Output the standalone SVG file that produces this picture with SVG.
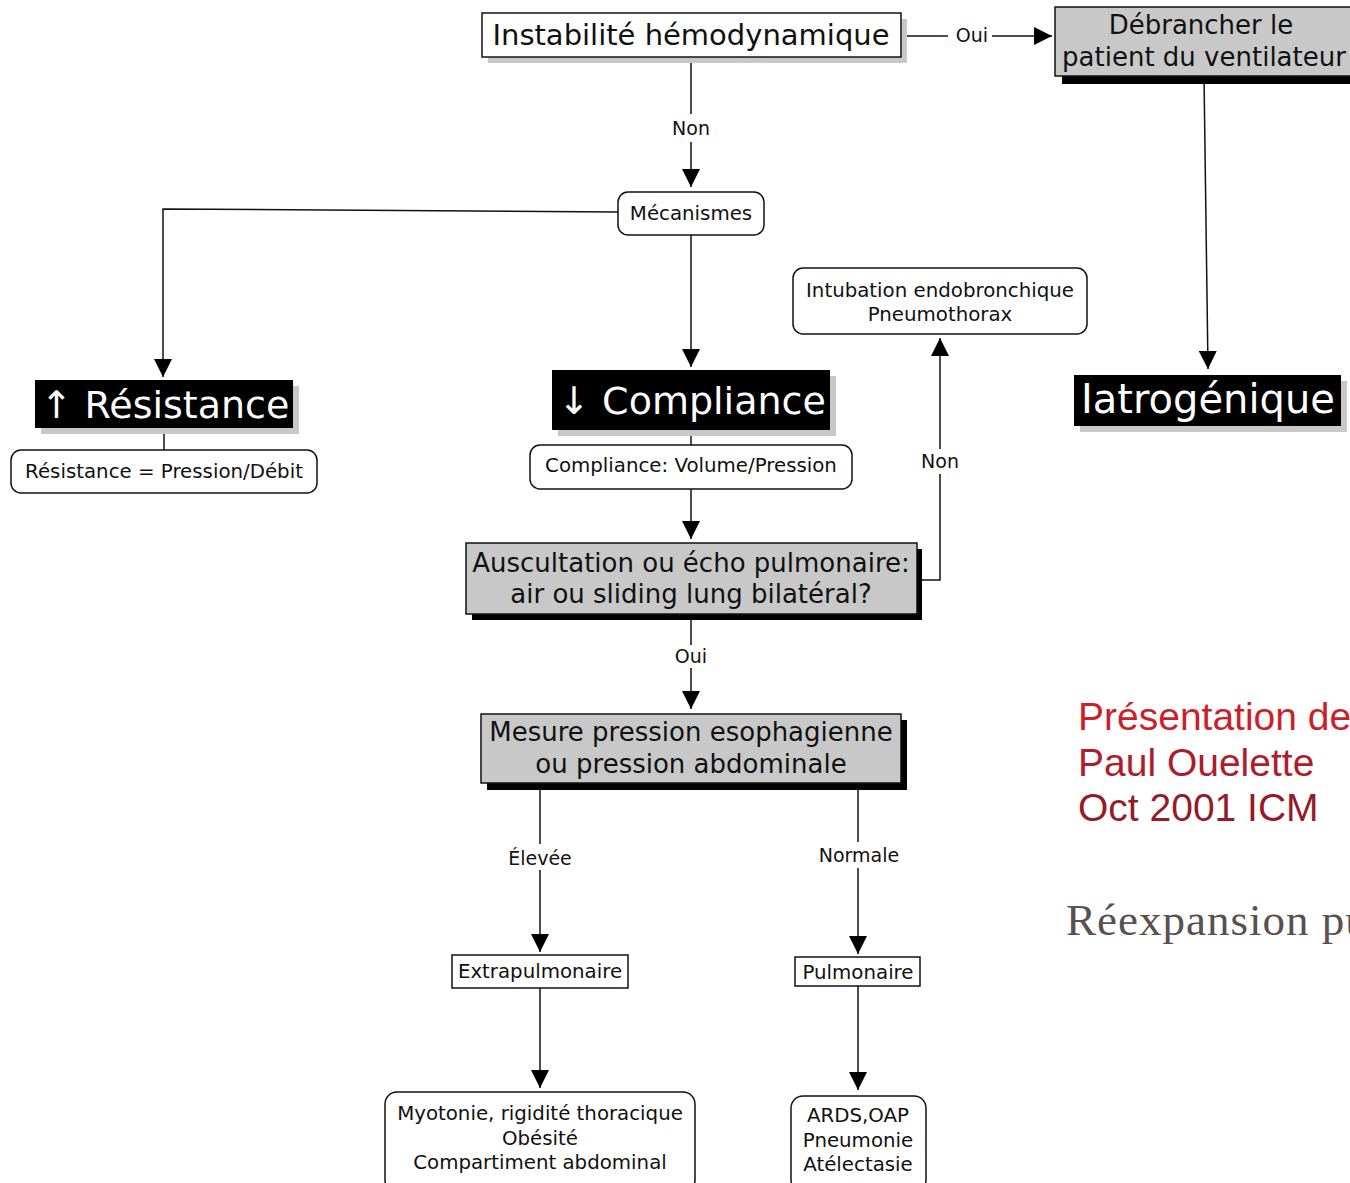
<svg xmlns="http://www.w3.org/2000/svg" width="1350" height="1183" viewBox="0 0 1350 1183">
  <defs>
    <marker id="arrBig" viewBox="0 0 10 10" refX="10" refY="5" markerWidth="18" markerHeight="18" markerUnits="userSpaceOnUse" orient="auto">
      <path d="M0,0 L10,5 L0,10 z" fill="#000"/>
    </marker>
  </defs>
  <style>
    text { font-family: "DejaVu Sans", Verdana, sans-serif; text-anchor: middle; fill: #111; }
    .box { fill: #fff; stroke: #111; stroke-width: 1.5; }
    .grey { fill: #c8c8c8; stroke: #111; stroke-width: 1.5; }
    .dark { fill: #000; }
    .lshadow { fill: #c8c8c8; }
    .bshadow { fill: #000; }
    .big { font-size: 29px; }
    .mid { font-size: 26px; }
    .small { font-size: 19.8px; }
    .lbl { font-size: 19px; }
    .white { fill: #fff; font-size: 38px; }
    .edge { fill: none; stroke: #111; stroke-width: 1.5; }
    .arrow { marker-end: url(#arrBig); }
    .note { text-anchor: start; font-family: "Liberation Sans", Arial, sans-serif; font-size: 39px; }
  </style>
  <rect width="1350" height="1183" fill="#fff"/>

  <!-- connectors -->
  <g id="connectors">
    <line class="edge" x1="901" y1="36" x2="948" y2="36"/>
    <line class="edge arrow" x1="992" y1="36" x2="1052" y2="36"/>
    <text class="lbl" x="972" y="42">Oui</text>

    <line class="edge" x1="691" y1="57" x2="691" y2="114"/>
    <line class="edge arrow" x1="691" y1="142" x2="691" y2="187"/>
    <text class="lbl" x="691" y="135">Non</text>

    <polyline class="edge arrow" points="618,212 163,209 163,377"/>
    <line class="edge arrow" x1="691" y1="235" x2="691" y2="367"/>

    <line class="edge" x1="164" y1="428" x2="164" y2="450"/>
    <line class="edge" x1="691" y1="430" x2="691" y2="445"/>
    <line class="edge arrow" x1="691" y1="489" x2="691" y2="539"/>

    <polyline class="edge" points="917,580 940,580 940,474"/>
    <line class="edge arrow" x1="940" y1="449" x2="940" y2="338"/>
    <text class="lbl" x="940" y="468">Non</text>

    <line class="edge" x1="691" y1="614" x2="691" y2="645"/>
    <line class="edge arrow" x1="691" y1="668" x2="691" y2="709"/>
    <text class="lbl" x="691" y="663">Oui</text>

    <line class="edge" x1="540" y1="783" x2="540" y2="844"/>
    <line class="edge arrow" x1="540" y1="870" x2="540" y2="952"/>
    <text class="lbl" x="540" y="865">Élevée</text>

    <line class="edge" x1="858" y1="790" x2="858" y2="842"/>
    <line class="edge arrow" x1="858" y1="868" x2="858" y2="954"/>
    <text class="lbl" x="859" y="862">Normale</text>

    <line class="edge arrow" x1="540" y1="988" x2="540" y2="1088"/>
    <line class="edge arrow" x1="858" y1="986" x2="858" y2="1090"/>

    <line class="edge arrow" x1="1204" y1="76" x2="1208" y2="369"/>
  </g>

  <!-- nodes -->
  <g id="instabilite">
    <rect class="lshadow" x="488" y="19" width="419" height="44"/>
    <rect class="box" x="482" y="13" width="419" height="44"/>
    <text class="big" x="691" y="45">Instabilité hémodynamique</text>
  </g>

  <g id="debrancher">
    <rect class="bshadow" x="1062" y="14" width="300" height="70"/>
    <rect class="grey" x="1055" y="7" width="300" height="69"/>
    <text class="mid" x="1201" y="34">Débrancher le</text>
    <text class="mid" x="1204" y="66">patient du ventilateur</text>
  </g>

  <g id="mecanismes">
    <rect class="box" x="618" y="192" width="146" height="43" rx="10"/>
    <text class="small" x="691" y="220">Mécanismes</text>
  </g>

  <g id="resistance">
    <rect class="lshadow" x="41" y="386" width="258" height="48"/>
    <rect class="dark" x="35" y="380" width="258" height="48"/>
    <text class="white" x="165" y="418">↑ Résistance</text>
  </g>

  <g id="resistance-formule">
    <rect class="box" x="11" y="450" width="306" height="43" rx="10"/>
    <text class="small" x="164" y="478">Résistance = Pression/Débit</text>
  </g>

  <g id="compliance">
    <rect class="lshadow" x="558" y="376" width="278" height="60"/>
    <rect class="dark" x="552" y="370" width="278" height="60"/>
    <text class="white" x="692" y="414">↓ Compliance</text>
  </g>

  <g id="compliance-formule">
    <rect class="box" x="530" y="445" width="322" height="44" rx="10"/>
    <text class="small" x="691" y="472">Compliance: Volume/Pression</text>
  </g>

  <g id="intubation">
    <rect class="box" x="793" y="268" width="294" height="66" rx="10"/>
    <text class="small" x="940" y="297">Intubation endobronchique</text>
    <text class="small" x="940" y="321">Pneumothorax</text>
  </g>

  <g id="iatrogenique">
    <rect class="lshadow" x="1080" y="381" width="267" height="51"/>
    <rect class="dark" x="1074" y="375" width="267" height="51"/>
    <text class="white" x="1208" y="413" style="font-size:40px">Iatrogénique</text>
  </g>

  <g id="auscultation">
    <rect class="bshadow" x="472" y="549" width="450" height="71"/>
    <rect class="grey" x="466" y="543" width="451" height="71"/>
    <text class="mid" x="691" y="572">Auscultation ou écho pulmonaire:</text>
    <text class="mid" x="691" y="603">air ou sliding lung bilatéral?</text>
  </g>

  <g id="mesure">
    <rect class="bshadow" x="487" y="720" width="420" height="70"/>
    <rect class="grey" x="481" y="714" width="420" height="69"/>
    <text class="mid" x="691" y="741">Mesure pression esophagienne</text>
    <text class="mid" x="691" y="773">ou pression abdominale</text>
  </g>

  <g id="extrapulmonaire">
    <rect class="box" x="452" y="955" width="176" height="33"/>
    <text class="small" x="540" y="978">Extrapulmonaire</text>
  </g>

  <g id="pulmonaire">
    <rect class="box" x="795" y="957" width="125" height="29"/>
    <text class="small" x="858" y="979">Pulmonaire</text>
  </g>

  <g id="causes-extrapulmonaires">
    <rect class="box" x="385" y="1092" width="310" height="100" rx="12"/>
    <text class="small" x="540" y="1120">Myotonie, rigidité thoracique</text>
    <text class="small" x="540" y="1145">Obésité</text>
    <text class="small" x="540" y="1169">Compartiment abdominal</text>
  </g>

  <g id="causes-pulmonaires">
    <rect class="box" x="791" y="1096" width="135" height="96" rx="12"/>
    <text class="small" x="858" y="1122">ARDS,OAP</text>
    <text class="small" x="858" y="1147">Pneumonie</text>
    <text class="small" x="858" y="1171">Atélectasie</text>
  </g>

  <!-- side notes -->
  <g id="credits">
    <text class="note" x="1078" y="730" style="fill:#cc1f2b">Présentation de</text>
    <text class="note" x="1078" y="776" style="fill:#b01c2c">Paul Ouelette</text>
    <text class="note" x="1078" y="821" style="fill:#951b2b">Oct 2001 ICM</text>
  </g>
  <text x="1066" y="935" style="text-anchor:start; fill:#5a5050; font-family:'Liberation Serif', 'Times New Roman', serif; font-size:45px; letter-spacing:1px">Réexpansion pu</text>
</svg>
